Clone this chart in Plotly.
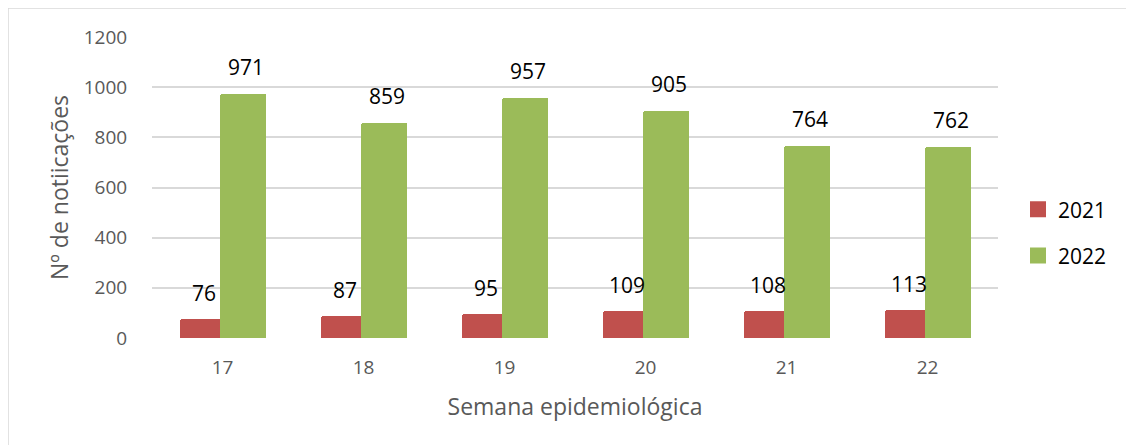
import plotly.graph_objects as go

weeks = ["17", "18", "19", "20", "21", "22"]
y2021 = [76, 87, 95, 109, 108, 113]
y2022 = [971, 859, 957, 905, 764, 762]
yticks = [0, 200, 400, 600, 800, 1000, 1200]

RED = "#C0504D"
GREEN = "#9BBB59"
FONT = "Open Sans"

W, H = 1126, 437
L, T = 144, 29
PW, PH = 846, 301

fig = go.Figure()
fig.add_trace(go.Bar(x=weeks, y=y2021, name="2021", marker=dict(color=RED, line=dict(width=0), cornerradius=2),
                     offset=-0.30, width=0.285, showlegend=False))
fig.add_trace(go.Bar(x=weeks, y=y2022, name="2022", marker=dict(color=GREEN, line=dict(width=0), cornerradius=2),
                     offset=-0.015, width=0.325, showlegend=False))
# legend entries (square symbols)
fig.add_trace(go.Scatter(x=[None], y=[None], mode="markers", name="2021", legendgroup="a",
                         marker=dict(symbol="square", size=16, color=RED)))
fig.add_trace(go.Scatter(x=[None], y=[None], mode="markers", name="2022", legendgroup="b",
                         marker=dict(symbol="square", size=16, color=GREEN)))

for i, v in enumerate(y2021):
    fig.add_annotation(x=i, y=v, text=str(v), showarrow=False, xshift=-19, yshift=26, yanchor="middle",
                       font=dict(family=FONT, size=21, color="#000000"))
for i, v in enumerate(y2022):
    fig.add_annotation(x=i, y=v, text=str(v), showarrow=False, xshift=23, yshift=27, yanchor="middle",
                       font=dict(family=FONT, size=21, color="#000000"))

# outer chart border
fig.add_shape(type="rect", xref="paper", yref="paper", x0=(0 - L) / PW, x1=(W + 10 - L) / PW,
              y0=(T + PH - (H + 10)) / PH, y1=(T + PH - 0) / PH,
              line=dict(color="#D9D9D9", width=1.5), layer="below")

fig.update_layout(
    width=W, height=H,
    margin=dict(l=L, r=W - L - PW, t=T, b=H - T - PH),
    paper_bgcolor="white", plot_bgcolor="white",
    font=dict(family=FONT, color="#595959"),
    showlegend=True,
    legend=dict(x=(1010 - L) / PW, y=0.35, xanchor="left", yanchor="middle", traceorder="grouped",
                tracegroupgap=16, font=dict(family=FONT, size=21, color="#000000"),
                itemsizing="trace", itemwidth=30, bgcolor="rgba(0,0,0,0)"),
    bargap=0, barmode="overlay",
)
fig.update_xaxes(type="category", range=[-0.5, 5.5], showgrid=False, zeroline=False, showline=False,
                 ticks="outside", ticklen=12, tickcolor="rgba(0,0,0,0)",
                 tickfont=dict(family=FONT, size=19, color="#595959"),
                 title=dict(text="Semana epidemiológica", font=dict(family=FONT, size=23, color="#595959"), standoff=20))
fig.update_yaxes(range=[0, 1200], tickvals=yticks, showgrid=True, gridcolor="#D9D9D9", gridwidth=1.5,
                 zeroline=False, showline=False,
                 ticks="outside", ticklen=20, tickcolor="rgba(0,0,0,0)",
                 tickfont=dict(family=FONT, size=19, color="#595959"),
                 title=dict(text="Nº de notiicações", font=dict(family=FONT, size=23, color="#595959"), standoff=8))

fig.write_html("out.html")
